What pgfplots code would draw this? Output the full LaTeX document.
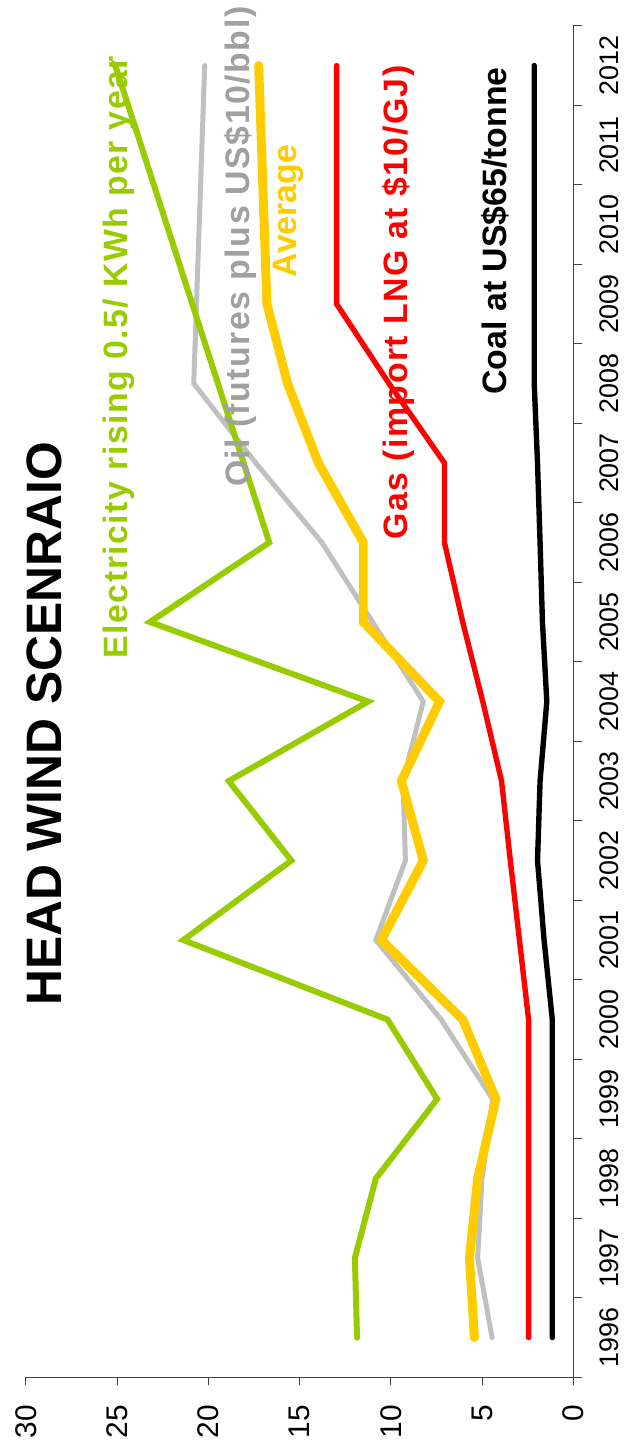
\documentclass[border=0pt]{standalone}
\usepackage{pgfplots}
\pgfplotsset{compat=1.18}
\usepackage{fontspec}
\setmainfont{Liberation Sans}
\newfontfamily\spaced[LetterSpace=4.5]{Liberation Sans}
\definecolor{elec}{HTML}{99CC00}
\definecolor{oil}{HTML}{C0C0C0}
\definecolor{oiltxt}{HTML}{A0A0A0}
\definecolor{avg}{HTML}{FFCC00}
\definecolor{gas}{HTML}{FF0000}
\begin{document}
\begin{tikzpicture}
\begin{axis}[
 scale only axis, width=275pt, height=679pt,
 xmin=0, xmax=30, ymin=1995.5, ymax=2012.5,
 x dir=reverse,
 axis x line*=bottom, axis y line*=right,
 axis line style={black!75, line width=0.5pt},
 xtick={0,5,...,30},
 ytick={1996,...,2012},
 minor ytick={1995.5,1996.5,...,2012.5},
 tick align=outside,
 major tick length=4pt, minor tick length=4.5pt,
 tick style={black!75, line width=0.5pt},
 major y tick style={draw=none},
 /pgf/number format/assume math mode=true,
 /pgf/number format/1000 sep={},
 xticklabel style={font=\fontsize{15}{15}\selectfont, yshift=-6.5pt, rotate=90, anchor=east},
 yticklabel style={font=\fontsize{13.5}{13.5}\selectfont, xshift=6pt, rotate=90, anchor=north},
 clip=false,
]
\addplot[oil, line width=2.5pt, line cap=round] coordinates {(4.45,1996) (5.24,1997) (5.0,1998) (4.42,1999) (7.24,2000) (10.82,2001) (9.2,2002) (9.33,2003) (8.22,2004) (11.0,2005) (13.78,2006) (17.4,2007) (20.8,2008) (20.2,2012)};
\addplot[avg, line width=4.5pt, line cap=round] coordinates {(5.42,1996) (5.69,1997) (5.24,1998) (4.24,1999) (6.06,2000) (10.51,2001) (8.22,2002) (9.42,2003) (7.33,2004) (11.51,2005) (11.51,2006) (13.97,2007) (15.66,2008) (16.79,2009) (17.24,2012)};
\addplot[elec, line width=3pt, line cap=round] coordinates {(11.85,1996) (11.97,1997) (10.82,1998) (7.46,1999) (10.18,2000) (21.37,2001) (15.45,2002) (18.88,2003) (11.24,2004) (23.2,2005) (16.66,2006) (25.1,2012)};
\addplot[gas, line width=2.7pt, line cap=round] coordinates {(2.45,1996) (2.45,1997) (2.45,1998) (2.45,1999) (2.45,2000) (2.95,2001) (3.45,2002) (3.93,2003) (4.96,2004) (6.06,2005) (7.06,2006) (7.06,2007) (10.1,2008) (12.97,2009) (12.97,2012)};
\addplot[black, line width=2.7pt, line cap=round] coordinates {(1.15,1996) (1.15,1997) (1.15,1998) (1.15,1999) (1.15,2000) (1.6,2001) (1.96,2002) (1.82,2003) (1.45,2004) (1.69,2005) (1.82,2006) (1.96,2007) (2.14,2008) (2.14,2012)};
\node[rotate=90, font=\fontsize{25}{25}\selectfont\bfseries] at (axis cs:28.97,2003.72) {HEAD WIND SCENRAIO};
\node[rotate=90, text=elec, font=\spaced\fontsize{17}{17}\selectfont\bfseries] at (axis cs:24.88,2008.33) {Electricity rising 0.5/ KWh per year};
\node[rotate=90, text=oiltxt, font=\spaced\fontsize{17}{17}\selectfont\bfseries] at (axis cs:18.22,2009.72) {Oil (futures plus US\$10/bbl)};
\node[rotate=90, text=avg, font=\fontsize{17}{17}\selectfont\bfseries] at (axis cs:15.6,2010.17) {Average};
\node[rotate=90, text=gas, font=\spaced\fontsize{17}{17}\selectfont\bfseries] at (axis cs:9.6,2009.02) {Gas (import LNG at \$10/GJ)};
\node[rotate=90, text=black, font=\fontsize{17}{17}\selectfont\bfseries] at (axis cs:4.3,2009.92) {Coal at US\$65/tonne};
\coordinate (bbsw) at (axis cs:30,1995.5);
\coordinate (bbne) at (axis cs:0,2012.5);
\end{axis}
\path ([shift={(-13pt,-36pt)}]bbsw) rectangle ([shift={(26.5pt,9.5pt)}]bbne);
\end{tikzpicture}
\end{document}
